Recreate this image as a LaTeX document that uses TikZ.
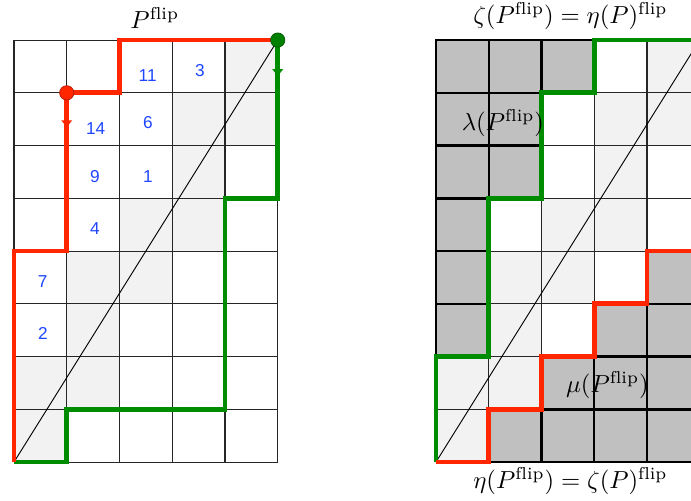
\documentclass[tikz,border=0pt]{standalone}
\usepackage{fontspec}
\newfontfamily\numfont{Liberation Sans}
\definecolor{pathred}{RGB}{255,38,0}
\definecolor{pathgreen}{RGB}{0,140,0}
\definecolor{dotgreen}{RGB}{0,128,0}
\definecolor{numblue}{RGB}{30,70,255}
\definecolor{lightcell}{RGB}{242,242,242}
\definecolor{darkcell}{RGB}{192,192,192}
\tikzset{
  gridline/.style={line width=0.6pt, black!85},
  darkborder/.style={line width=1.3pt, black},
  diagline/.style={line width=0.5pt, black},
  redpath/.style={line width=2.6pt, pathred, line join=miter},
  greenpath/.style={line width=2.6pt, pathgreen, line join=miter},
  num/.style={font=\numfont\fontsize{9.3}{10}\selectfont, text=numblue, inner sep=0pt},
  mathlbl/.style={scale=1.33, inner sep=0pt},
  reddot/.style={circle, fill=pathred, draw=pathred!70!black, line width=0.4pt, minimum size=0.27cm, inner sep=0pt},
  greendot/.style={circle, fill=dotgreen, draw=dotgreen!70!black, line width=0.4pt, minimum size=0.27cm, inner sep=0pt},
}
\begin{document}
\begin{tikzpicture}[x=1cm,y=1cm]
\useasboundingbox (-0.265,-0.72) rectangle (12.835,8.76);
% light diagonal cells
\foreach \c/\r in {4/7,3/6,4/6,3/5,2/4,3/4,1/3,2/3,1/2,0/1,1/1,0/0} {
  \fill[lightcell] (\c,\r) rectangle ++(1,1);
  \fill[lightcell] (\c+8,\r) rectangle ++(1,1);
}
% dark cells on the right
\foreach \c/\r in {0/7,1/7,2/7,0/6,1/6,0/5,1/5,0/4,0/3,0/2,1/0,2/0,3/0,4/0,2/1,3/1,4/1,3/2,4/2,4/3} {
  \fill[darkcell] (\c+8,\r) rectangle ++(1,1);
}
% grids
\draw[gridline] (0,0) grid (5,8);
\draw[gridline] (8,0) grid (13,8);
\foreach \c/\r in {0/7,1/7,2/7,0/6,1/6,0/5,1/5,0/4,0/3,0/2,1/0,2/0,3/0,4/0,2/1,3/1,4/1,3/2,4/2,4/3} {
  \draw[darkborder] (\c+8,\r) rectangle ++(1,1);
}
% diagonals
\draw[diagline] (0,0) -- (5,8);
\draw[diagline] (8,0) -- (13,8);
% numbers
\node[num] (n11) at (2.535,7.32) {11};
\node[num] (n3) at (3.526,7.43) {3};
\node[num] (n14) at (1.549,6.33) {14};
\node[num] (n6) at (2.54,6.43) {6};
\node[num] (n9) at (1.535,5.42) {9};
\node[num] (n1) at (2.54,5.42) {1};
\node[num] (n4) at (1.535,4.42) {4};
\node[num] (n7) at (0.544,3.43) {7};
\node[num] (n2) at (0.55,2.43) {2};
% left paths
\draw[greenpath] (0,0) -- (1,0) -- (1,1) -- (4,1) -- (4,5) -- (5,5) -- (5,8);
\draw[redpath] (0,0) -- (0,4) -- (1,4) -- (1,7) -- (2,7) -- (2,8) -- (5,8);
% arrow marks
\fill[pathred] (1,6.35) -- (0.895,6.48) -- (1.105,6.48) -- cycle;
\fill[pathgreen] (5,7.32) -- (4.895,7.45) -- (5.105,7.45) -- cycle;
% dots
\node[reddot] (rd) at (1,7) {};
\node[greendot] (gd) at (5,8) {};
% right paths
\draw[greenpath] (8,0) -- (8,2) -- (9,2) -- (9,5) -- (10,5) -- (10,7) -- (11,7) -- (11,8) -- (13,8);
\draw[redpath] (8,0) -- (9,0) -- (9,1) -- (10,1) -- (10,2) -- (11,2) -- (11,3) -- (12,3) -- (12,4) -- (13,4) -- (13,8);
% labels
\node[mathlbl] (t1) at (2.67,8.42) {$P^{\mathrm{flip}}$};
\node[mathlbl] (t2) at (10.55,8.45) {$\zeta(P^{\mathrm{flip}})=\eta(P)^{\mathrm{flip}}$};
\node[mathlbl] (t3) at (10.55,-0.36) {$\eta(P^{\mathrm{flip}})=\zeta(P)^{\mathrm{flip}}$};
\node[mathlbl] (lam) at (9.27,6.43) {$\lambda(P^{\mathrm{flip}})$};
\node[mathlbl] (mu) at (11.25,1.46) {$\mu(P^{\mathrm{flip}})$};
\end{tikzpicture}
\end{document}
